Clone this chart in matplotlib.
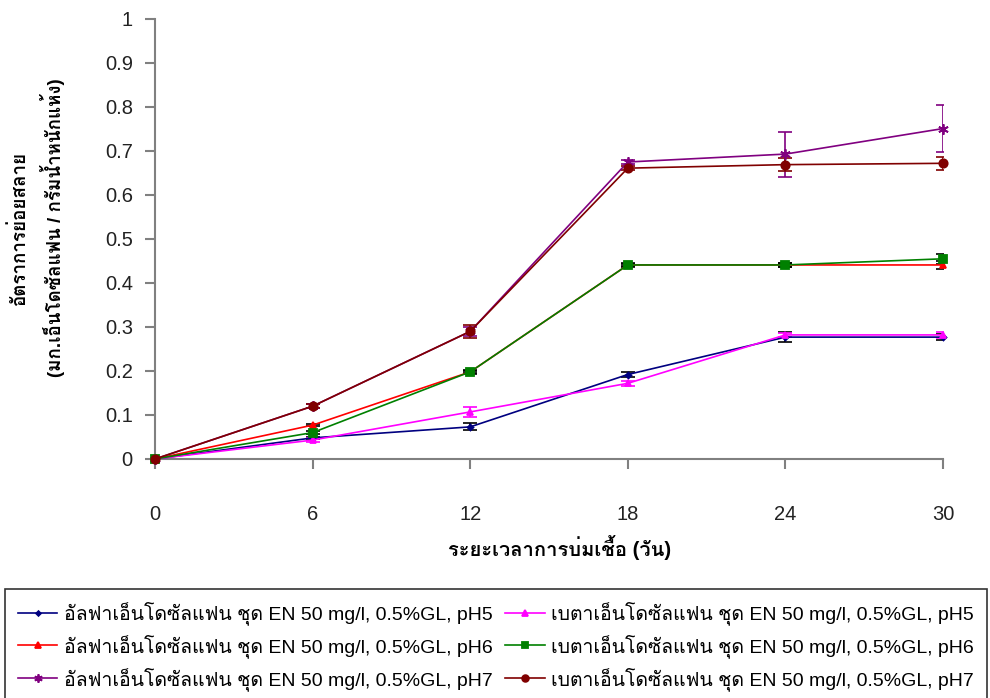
import numpy as np
import matplotlib
matplotlib.use('Agg')
import matplotlib.pyplot as plt
from matplotlib import font_manager, ft2font

# find an installed font that carries Thai glyphs
def thai_font():
    for f in font_manager.fontManager.ttflist:
        try:
            ft = ft2font.FT2Font(f.fname)
            if 0x0E2D in ft.get_charmap():
                return f.name
        except Exception:
            pass
    return None

th = thai_font()
fams = ['Liberation Sans'] + ([th] if th else []) + ['DejaVu Sans']
plt.rcParams['font.family'] = fams

days = [0, 6, 12, 18, 24, 30]

alpha_ph5 = [0, 0.048, 0.073, 0.192, 0.277, 0.277]
alpha_ph5_err = [0.002, 0.003, 0.008, 0.005, 0.012, 0.007]
alpha_ph6 = [0, 0.077, 0.198, 0.441, 0.441, 0.441]
alpha_ph6_err = [0.002, 0.003, 0.004, 0.004, 0.004, 0.010]
alpha_ph7 = [0, 0.120, 0.290, 0.675, 0.693, 0.751]
alpha_ph7_err = [0.002, 0.004, 0.010, 0.004, 0.051, 0.054]
beta_ph5 = [0, 0.043, 0.107, 0.172, 0.282, 0.282]
beta_ph5_err = [0.002, 0.004, 0.012, 0.005, 0.004, 0.006]
beta_ph6 = [0, 0.060, 0.198, 0.441, 0.441, 0.455]
beta_ph6_err = [0.002, 0.004, 0.003, 0.003, 0.004, 0.012]
beta_ph7 = [0, 0.120, 0.290, 0.661, 0.669, 0.672]
beta_ph7_err = [0.002, 0.005, 0.015, 0.004, 0.014, 0.015]

lbl_a = 'อัลฟาเอ็นโดซัลแฟน ชุด EN 50 mg/l, 0.5%GL, pH'
lbl_b = 'เบตาเอ็นโดซัลแฟน ชุด EN 50 mg/l, 0.5%GL, pH'

series = [
    (alpha_ph5, alpha_ph5_err, '#000080', 'black', 'D', 3, lbl_a + '5'),
    (alpha_ph6, alpha_ph6_err, '#FF0000', 'black', '^', 5, lbl_a + '6'),
    (alpha_ph7, alpha_ph7_err, '#800080', '#800080', (6, 2, 0), 7.5, lbl_a + '7'),
    (beta_ph5, beta_ph5_err, '#FF00FF', '#FF00FF', '^', 5, lbl_b + '5'),
    (beta_ph6, beta_ph6_err, '#008000', 'black', 's', 5.5, lbl_b + '6'),
    (beta_ph7, beta_ph7_err, '#800000', '#800000', 'o', 6, lbl_b + '7'),
]

fig = plt.figure(figsize=(9.9, 6.98), dpi=100)
ax = fig.add_axes([155/990, 1-459/698, (943-155)/990, (459-19)/698])

handles = []
for y, e, c, ec, m, ms, lab in series:
    ax.errorbar(days, y, yerr=e, fmt='none', ecolor=ec, elinewidth=1.2,
                capsize=5, capthick=1.2, zorder=2)
    h, = ax.plot(days, y, color=c, lw=1.2, marker=m, markersize=ms,
                 markerfacecolor=c, markeredgecolor=c, mew=1.3, label=lab,
                 zorder=3, clip_on=False)
    handles.append(h)

ax.set_xlim(0, 30)
ax.set_ylim(0, 1)
ax.set_xticks(days)
ax.set_yticks(np.arange(0, 1.01, 0.1))
ax.set_yticklabels(['0', '0.1', '0.2', '0.3', '0.4', '0.5', '0.6', '0.7', '0.8', '0.9', '1'])
for s in ['top', 'right']:
    ax.spines[s].set_visible(False)
for s in ['left', 'bottom']:
    ax.spines[s].set_color('#808080')
    ax.spines[s].set_linewidth(1.5)
ax.tick_params(axis='both', direction='out', length=7, width=1.5, color='#808080',
               labelsize=14.5, labelcolor='#222222')
ax.tick_params(axis='x', pad=26)
ax.tick_params(axis='y', pad=9)

fig.text(560/990, 1-547/698, 'ระยะเวลาการบ่มเชื้อ (วัน)', ha='center', va='center',
         fontsize=14.5, fontweight='bold')
fig.text(37/990, 1-228/698, 'อัตราการย่อยสลาย\n(มก.เอ็นโดซัลแฟน / กรัมน้ำหนักแห้ง)',
         rotation=90, ha='center', va='center', fontsize=13.5, fontweight='bold',
         linespacing=1.5)

leg = fig.legend(handles=handles, labels=[h.get_label() for h in handles], ncol=2,
                 loc='upper left', bbox_to_anchor=(5/990, 1-589/698),
                 fontsize=14, frameon=True, fancybox=False,
                 edgecolor='black', handlelength=2.05, handletextpad=0.35,
                 labelspacing=0.45, borderpad=0.65, borderaxespad=0,
                 columnspacing=0.6)
leg.get_frame().set_linewidth(1.2)
for lh in leg.legend_handles:
    lh.set_markersize(lh.get_markersize() * 0.8)

fig.savefig('out.png', dpi=100)
